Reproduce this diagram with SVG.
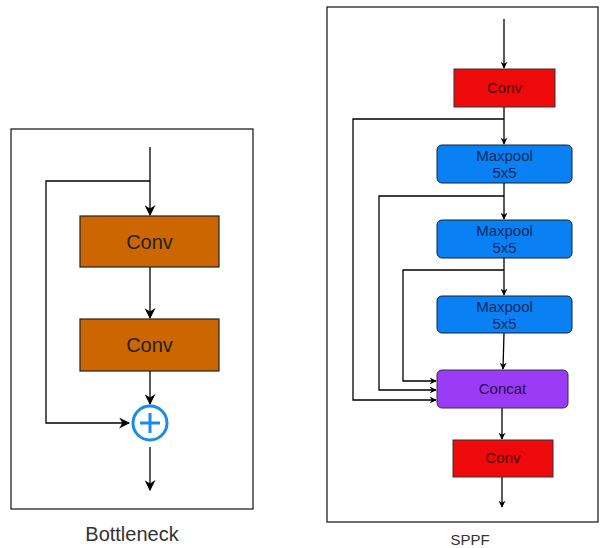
<svg xmlns="http://www.w3.org/2000/svg" width="600" height="548" viewBox="0 0 600 548">
<defs>
<marker id="ah" viewBox="0 0 10 10" refX="9" refY="5" markerWidth="7" markerHeight="7" markerUnits="userSpaceOnUse" orient="auto">
<path d="M0,0 L10,5 L0,10 L3,5 Z" fill="#000"/>
</marker>
<marker id="ahb" viewBox="0 0 10 10" refX="9" refY="5" markerWidth="11" markerHeight="11" markerUnits="userSpaceOnUse" orient="auto">
<path d="M0,0 L10,5 L0,10 L3,5 Z" fill="#000"/>
</marker>
</defs>
<style>
.frame{fill:#fff;stroke:#222;stroke-width:1.3}
.conn{fill:none;stroke:#000;stroke-width:1.3}
.orange{fill:#cc6600;stroke:#222;stroke-width:1.2}
.red{fill:#ee0a0a;stroke:#333;stroke-width:1}
.blue{fill:#0a80f5;stroke:#123;stroke-width:1}
.purple{fill:#9a3cf5;stroke:#333;stroke-width:1}
.t{font-family:"Liberation Sans",Arial,sans-serif;text-anchor:middle}
</style>
<rect width="600" height="548" fill="#fff"/>
<g id="bottleneck-frame"><rect class="frame" x="11" y="129" width="242" height="380"/></g>
<g id="sppf-frame"><rect class="frame" x="327" y="7" width="271" height="515"/></g>
<g id="connectors">
<path class="conn" d="M150,147 V215" marker-end="url(#ahb)"/>
<path class="conn" d="M150,181 H46 V423 H129" marker-end="url(#ahb)"/>
<path class="conn" d="M150,267 V318" marker-end="url(#ahb)"/>
<path class="conn" d="M150,371 V404" marker-end="url(#ahb)"/>
<path class="conn" d="M150,447 V490" marker-end="url(#ahb)"/>
<path class="conn" d="M504,19 V68" marker-end="url(#ah)"/>
<path class="conn" d="M504,107 V144" marker-end="url(#ah)"/>
<path class="conn" d="M504,119 H353 V400 H436" marker-end="url(#ah)"/>
<path class="conn" d="M504,183 V219" marker-end="url(#ah)"/>
<path class="conn" d="M504,196 H379 V390 H436" marker-end="url(#ah)"/>
<path class="conn" d="M504,258 V295" marker-end="url(#ah)"/>
<path class="conn" d="M504,270 H403 V381 H436" marker-end="url(#ah)"/>
<path class="conn" d="M504,333 L503,369" marker-end="url(#ah)"/>
<path class="conn" d="M502,408 V439" marker-end="url(#ah)"/>
<path class="conn" d="M502,477 V507" marker-end="url(#ah)"/>
</g>
<g id="b-conv1"><rect class="orange" x="80" y="216" width="139" height="51"/><text class="t" x="149.5" y="249" font-size="20" fill="#222">Conv</text></g>
<g id="b-conv2"><rect class="orange" x="80" y="319" width="139" height="52"/><text class="t" x="149.5" y="352" font-size="20" fill="#222">Conv</text></g>
<g id="b-add"><circle cx="150" cy="423" r="17" fill="#fff" stroke="#1a8be6" stroke-width="3"/><path d="M140,423 H160 M150,413 V433" stroke="#1a8be6" stroke-width="3"/></g>
<g id="b-label"><text class="t" x="132" y="541" font-size="20" fill="#333">Bottleneck</text></g>
<g id="s-conv1"><rect class="red" x="454" y="69" width="101" height="38"/><text class="t" x="504.5" y="93" font-size="15" fill="#400">Conv</text></g>
<g id="s-mp1"><rect class="blue" x="437" y="145" width="135" height="38" rx="5"/><text class="t" x="504.5" y="161" font-size="15" fill="#0a2a5a">Maxpool</text><text class="t" x="504.5" y="178" font-size="15" fill="#0a2a5a">5x5</text></g>
<g id="s-mp2"><rect class="blue" x="437" y="220" width="135" height="38" rx="5"/><text class="t" x="504.5" y="236" font-size="15" fill="#0a2a5a">Maxpool</text><text class="t" x="504.5" y="253" font-size="15" fill="#0a2a5a">5x5</text></g>
<g id="s-mp3"><rect class="blue" x="437" y="296" width="135" height="37" rx="5"/><text class="t" x="504.5" y="312" font-size="15" fill="#0a2a5a">Maxpool</text><text class="t" x="504.5" y="329" font-size="15" fill="#0a2a5a">5x5</text></g>
<g id="s-concat"><rect class="purple" x="437" y="370" width="131" height="38" rx="5"/><text class="t" x="502.5" y="394" font-size="15" fill="#2a0a4a">Concat</text></g>
<g id="s-conv2"><rect class="red" x="453" y="440" width="100" height="37"/><text class="t" x="503" y="463" font-size="15" fill="#400">Conv</text></g>
<g id="s-label"><text class="t" x="470" y="545" font-size="15" fill="#333">SPPF</text></g>
</svg>
